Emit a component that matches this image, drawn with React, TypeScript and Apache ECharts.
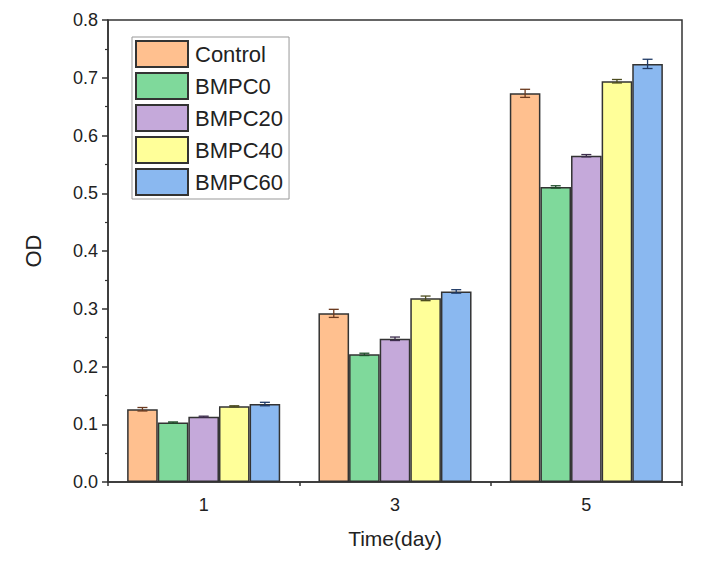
import React, { useEffect, useRef } from "react";
import * as echarts from "echarts";

const categories = ["1", "3", "5"];
const seriesNames = ["Control", "BMPC0", "BMPC20", "BMPC40", "BMPC60"];
const control = [0.126, 0.292, 0.673];
const bmpc0 = [0.103, 0.221, 0.511];
const bmpc20 = [0.113, 0.248, 0.565];
const bmpc40 = [0.131, 0.318, 0.694];
const bmpc60 = [0.135, 0.330, 0.724];
const controlErr = [0.003, 0.007, 0.007];
const bmpc0Err = [0.001, 0.002, 0.002];
const bmpc20Err = [0.001, 0.003, 0.002];
const bmpc40Err = [0.001, 0.004, 0.003];
const bmpc60Err = [0.003, 0.003, 0.008];
const yTicks = [0, 0.1, 0.2, 0.3, 0.4, 0.5, 0.6, 0.7, 0.8];

const values = [control, bmpc0, bmpc20, bmpc40, bmpc60];
const errors = [controlErr, bmpc0Err, bmpc20Err, bmpc40Err, bmpc60Err];
const colors = ["#FFC08F", "#7FD99B", "#C5A9DA", "#FFFF99", "#8AB8F0"];
const errColors = ["#6b3a1f", "#1f4d2a", "#3d2d4d", "#4d4d1f", "#1f3a66"];
const BAR_FRAC = 0.16;
const FONT = "Liberation Sans, Arial, sans-serif";

export default function App() {
  const ref = useRef<HTMLDivElement>(null);
  useEffect(() => {
    if (!ref.current) return;
    const chart = echarts.init(ref.current, null, { renderer: "svg" });
    const n = seriesNames.length;
    const barSeries = seriesNames.map((name, i) => ({
      name,
      type: "bar",
      data: values[i],
      barWidth: BAR_FRAC * 100 + "%",
      barGap: "0%",
      itemStyle: { color: colors[i], borderColor: "#333", borderWidth: 1.5 },
      z: 2,
    }));
    const errSeries = seriesNames.map((name, i) => ({
      name: name + "_err",
      type: "custom",
      z: 5,
      data: categories.map((c, k) => [k, values[i][k] - errors[i][k], values[i][k] + errors[i][k]]),
      renderItem: (params: any, api: any) => {
        const k = api.value(0);
        const band = api.size([1, 0])[0];
        const bw = band * BAR_FRAC;
        const lo = api.coord([k, api.value(1)]);
        const hi = api.coord([k, api.value(2)]);
        const x = lo[0] + (i - (n - 1) / 2) * bw;
        const hw = 5;
        const style = { stroke: errColors[i], lineWidth: 1.3 };
        return {
          type: "group",
          children: [
            { type: "line", shape: { x1: x, y1: lo[1], x2: x, y2: hi[1] }, style },
            { type: "line", shape: { x1: x - hw, y1: lo[1], x2: x + hw, y2: lo[1] }, style },
            { type: "line", shape: { x1: x - hw, y1: hi[1], x2: x + hw, y2: hi[1] }, style },
          ],
        };
      },
    }));
    chart.setOption({
      animation: false,
      backgroundColor: "#fff",
      textStyle: { fontFamily: FONT },
      grid: {
        left: 108,
        right: 20,
        top: 20,
        bottom: 86,
        show: true,
        borderColor: "#333",
        borderWidth: 1.5,
        backgroundColor: "transparent",
      },
      legend: {
        orient: "vertical",
        left: 132,
        top: 37,
        data: seriesNames,
        itemWidth: 52,
        itemHeight: 26,
        itemGap: 4,
        padding: [3, 6, 3, 3],
        borderColor: "#999",
        borderWidth: 1,
        icon: "rect",
        textStyle: { fontSize: 22, color: "#222", fontFamily: FONT, padding: [0, 0, 0, 2] },
      },
      xAxis: [
        {
          type: "category",
          data: categories,
          name: "Time(day)",
          nameLocation: "middle",
          nameGap: 46,
          nameTextStyle: { fontSize: 21, color: "#222", fontFamily: FONT },
          axisLine: { lineStyle: { color: "#333", width: 1.5 } },
          axisTick: { alignWithLabel: true, length: 6, lineStyle: { color: "#333", width: 1.5 } },
          axisLabel: { fontSize: 18, color: "#222", margin: 14, fontFamily: FONT },
          z: 3,
        },
        {
          type: "value",
          min: 0,
          max: 3,
          interval: 1,
          position: "bottom",
          show: true,
          axisLine: { show: false },
          splitLine: { show: false },
          axisTick: { show: true, length: 4, lineStyle: { color: "#333", width: 1.5 } },
          axisLabel: { show: false },
          z: 3,
        },
      ],
      yAxis: {
        type: "value",
        min: 0,
        max: 0.8,
        interval: 0.1,
        name: "OD",
        nameLocation: "middle",
        nameGap: 64,
        nameTextStyle: { fontSize: 22, color: "#222", fontFamily: FONT },
        axisLine: { show: true, lineStyle: { color: "#333", width: 1.5 } },
        axisTick: { show: true, length: 6, lineStyle: { color: "#333", width: 1.5 } },
        minorTick: { show: true, splitNumber: 2, length: 3, lineStyle: { color: "#333", width: 1.2 } },
        splitLine: { show: false },
        axisLabel: {
          fontSize: 18,
          color: "#222",
          margin: 10,
          fontFamily: FONT,
          formatter: (v: number) => {
            const t = yTicks.find((y) => Math.abs(y - v) < 1e-9);
            return (t !== undefined ? t : v).toFixed(1);
          },
        },
      },
      series: [...barSeries, ...errSeries],
    });
    return () => chart.dispose();
  }, []);
  return <div ref={ref} style={{ width: 702, height: 568, margin: -8 }} />;
}
